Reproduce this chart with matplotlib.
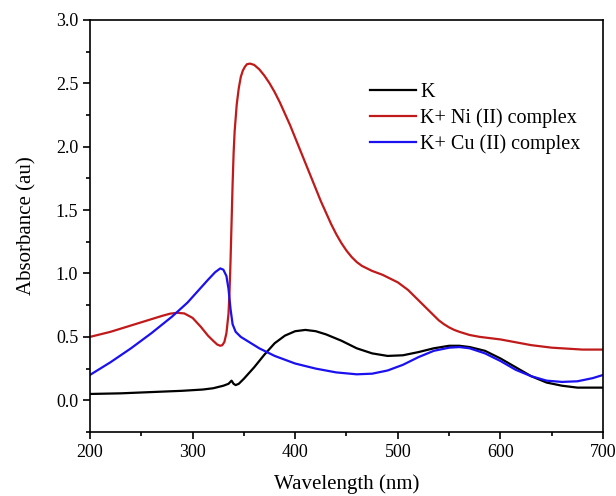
import matplotlib.pyplot as plt
from matplotlib.ticker import MultipleLocator

plt.rcParams['font.family'] = ['Liberation Serif', 'DejaVu Serif']

# K
wl_k = [200, 230, 260, 290, 310, 320, 330, 335, 338, 340, 342, 345, 350, 360, 370, 380,
        390, 400, 410, 420, 430, 445, 460, 475, 490, 505, 520, 535, 550, 560, 570, 585,
        600, 615, 630, 645, 660, 675, 690, 700]
abs_k = [0.05, 0.055, 0.065, 0.075, 0.085, 0.095, 0.115, 0.13, 0.155, 0.13, 0.12, 0.13, 0.17, 0.26,
         0.36, 0.45, 0.51, 0.545, 0.555, 0.545, 0.52, 0.47, 0.41, 0.37, 0.35, 0.355, 0.38, 0.41,
         0.43, 0.43, 0.42, 0.39, 0.33, 0.26, 0.19, 0.14, 0.115, 0.1, 0.1, 0.1]

# K + Ni(II)
wl_ni = [200, 220, 240, 260, 270, 278, 285, 292, 300, 308, 315, 320, 324, 327, 329, 331,
         333, 335, 336, 337, 338, 339, 340, 341, 343, 345, 347, 349, 351, 353, 356, 360,
         365, 370, 375, 380, 385, 390, 395, 400, 405, 410, 415, 420, 425, 430, 435, 440,
         445, 450, 455, 460, 465, 470, 475, 480, 485, 490, 495, 500, 505, 510, 515, 520,
         525, 530, 535, 540, 545, 550, 555, 560, 570, 580, 590, 600, 610, 620, 630, 640,
         650, 660, 670, 680, 690, 700]
abs_ni = [0.5, 0.54, 0.59, 0.64, 0.665, 0.683, 0.69, 0.685, 0.65, 0.58, 0.51, 0.47, 0.44, 0.43,
          0.435, 0.46, 0.53, 0.68, 0.85, 1.1, 1.4, 1.7, 1.95, 2.12, 2.33, 2.46, 2.55, 2.6, 2.63,
          2.65, 2.655, 2.645, 2.61, 2.56, 2.5, 2.43, 2.35, 2.26, 2.17, 2.07, 1.97, 1.87, 1.77,
          1.67, 1.57, 1.48, 1.39, 1.31, 1.24, 1.18, 1.13, 1.09, 1.06, 1.04, 1.02, 1.005, 0.99,
          0.97, 0.95, 0.93, 0.9, 0.87, 0.83, 0.79, 0.75, 0.71, 0.67, 0.63, 0.6, 0.575, 0.555,
          0.54, 0.515, 0.5, 0.49, 0.48, 0.465, 0.45, 0.435, 0.425, 0.415, 0.41, 0.405, 0.4,
          0.4, 0.4]

# K + Cu(II)
wl_cu = [200, 220, 240, 260, 280, 295, 305, 315, 322, 327, 330, 333, 335, 337, 339, 342,
         347, 355, 365, 380, 400, 420, 440, 460, 475, 490, 505, 520, 535, 550, 560, 570,
         585, 600, 615, 630, 645, 660, 675, 690, 700]
abs_cu = [0.2, 0.3, 0.41, 0.53, 0.66, 0.77, 0.86, 0.95, 1.01, 1.04, 1.03, 0.98, 0.88, 0.72, 0.6, 0.54,
          0.5, 0.46, 0.41, 0.35, 0.29, 0.25, 0.22, 0.205, 0.21, 0.235, 0.28, 0.34, 0.39, 0.415, 0.42,
          0.41, 0.37, 0.31, 0.24, 0.19, 0.155, 0.145, 0.15, 0.175, 0.2]

fig = plt.figure(figsize=(6.16, 4.96), dpi=100)
ax = fig.add_axes([0.146, 0.129, 0.833, 0.831])

ax.plot(wl_k, abs_k, color='black', lw=1.6, label='K')
ax.plot(wl_ni, abs_ni, color='#c01a1a', lw=1.6, label='K+ Ni (II) complex')
ax.plot(wl_cu, abs_cu, color='#1a10f0', lw=1.6, label='K+ Cu (II) complex')

ax.set_xlim(200, 700)
ax.set_ylim(-0.25, 3.0)
ax.xaxis.set_major_locator(MultipleLocator(100))
ax.xaxis.set_minor_locator(MultipleLocator(50))
ax.yaxis.set_major_locator(MultipleLocator(0.5))
ax.yaxis.set_minor_locator(MultipleLocator(0.25))
ax.yaxis.set_major_formatter(plt.FuncFormatter(lambda v, p: f'{v:.1f}'))
ax.tick_params(which='both', direction='out', top=False, right=False, labelsize=13, width=1.2)
ax.tick_params(which='major', length=5)
ax.tick_params(which='minor', length=3)
for s in ax.spines.values():
    s.set_linewidth(1.2)

ax.set_xlabel('Wavelength (nm)', fontsize=15, labelpad=10)
ax.set_ylabel('Absorbance (au)', fontsize=15, labelpad=14)

ax.legend(loc='upper left', bbox_to_anchor=(0.51, 0.89), frameon=False, fontsize=14.5,
          handlelength=2.3, handletextpad=0.2, labelspacing=0.3)

fig.savefig('out.png', dpi=100)
